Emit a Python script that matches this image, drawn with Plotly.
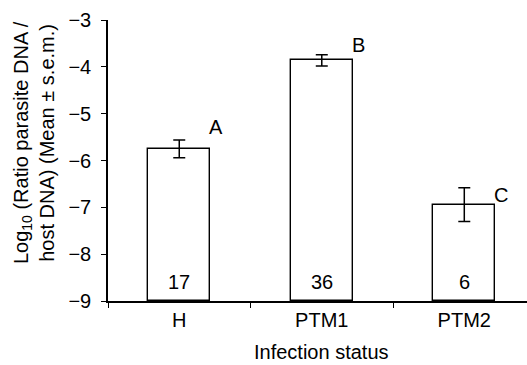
import plotly.graph_objects as go

categories = ["H", "PTM1", "PTM2"]
means = [-5.75, -3.86, -6.94]
sems = [0.19, 0.12, 0.36]
counts = ["17", "36", "6"]
letters = ["A", "B", "C"]

FONT = "Liberation Sans, Arial, Helvetica, sans-serif"

fig = go.Figure()
fig.add_trace(go.Bar(
    x=categories,
    y=[m - (-9) for m in means],
    base=-9,
    width=0.435,
    marker=dict(color="white", line=dict(color="black", width=1.4)),
    error_y=dict(type="data", array=sems, visible=True, color="black",
                 thickness=1.5, width=6),
    hoverinfo="skip",
))

annotations = []
# letters (upper right of each bar)
letter_y = [-5.29, -3.53, -6.74]
for i, (lab, ly) in enumerate(zip(letters, letter_y)):
    annotations.append(dict(x=i + 0.26, y=ly, xref="x", yref="y", text=lab,
                            showarrow=False, font=dict(size=20, color="black", family=FONT),
                            xanchor="center", yanchor="middle"))
# sample sizes inside bars
for i, c in enumerate(counts):
    annotations.append(dict(x=i, y=-8.6, xref="x", yref="y", text=c,
                            showarrow=False, font=dict(size=20, color="black", family=FONT),
                            xanchor="center", yanchor="middle"))
# x title
annotations.append(dict(x=1, y=-0.1815, xref="x", yref="paper", text="Infection status",
                        showarrow=False, font=dict(size=20, color="black", family=FONT),
                        xanchor="center", yanchor="middle"))
# y title
annotations.append(dict(x=-0.1766, y=0.562, xref="paper", yref="paper",
                        text="Log<sub>10</sub> (Ratio parasite DNA /<br>host DNA) (Mean ± s.e.m.)",
                        textangle=-90, showarrow=False,
                        font=dict(size=20, color="black", family=FONT),
                        xanchor="center", yanchor="middle"))

fig.update_layout(
    width=527, height=365,
    margin=dict(l=108, r=0, t=20, b=64, autoexpand=False),
    paper_bgcolor="white", plot_bgcolor="white",
    showlegend=False,
    font=dict(family=FONT, size=20, color="black"),
    annotations=annotations,
    bargap=0,
)
fig.update_xaxes(
    type="category", range=[-0.5, 2.44],
    showline=True, linecolor="black", linewidth=1.5,
    ticks="outside", tickson="boundaries", ticklen=5, tickcolor="black", tickwidth=1.2,
    showgrid=False, zeroline=False,
    tickfont=dict(size=20, family=FONT, color="black"),
    ticklabelstandoff=0,
)
fig.update_yaxes(
    range=[-9, -3], tickvals=[-9, -8, -7, -6, -5, -4, -3],
    showline=True, linecolor="black", linewidth=1.5,
    ticks="outside", ticklen=5, tickcolor="black", tickwidth=1.2,
    showgrid=False, zeroline=False,
    tickfont=dict(size=20, family=FONT, color="black"),
    ticklabelstandoff=6,
)

fig.write_html("out.html")
